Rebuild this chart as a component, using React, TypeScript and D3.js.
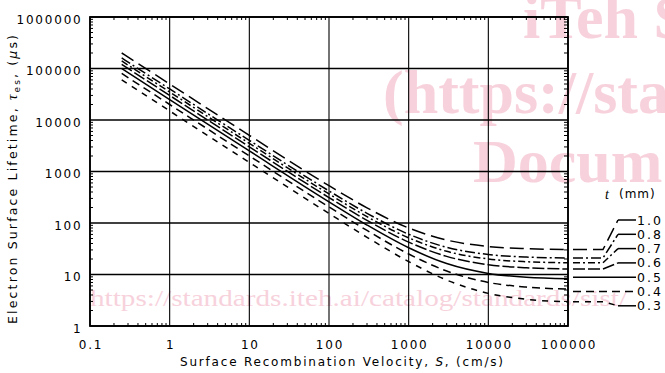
import React from "react";
import * as d3 from "d3";

// ── Data ──────────────────────────────────────────────────────
const VELOCITY = [0.25, 1, 10, 100, 300, 1000, 3000, 10000, 30000, 100000];

const T_10 = [200000, 50000, 5030, 530, 197, 80, 46.7, 35, 31.7, 30.5];
const T_08 = [160000, 40000, 4020, 420, 154, 60.5, 33.8, 24.5, 21.8, 20.9];
const T_07 = [140000, 35000, 3516, 366, 133, 51.5, 28.2, 20, 17.7, 16.9];
const T_06 = [120000, 30000, 3012, 312, 112.5, 42.5, 22.5, 15.5, 13.5, 12.8];
const T_05 = [100000, 25000, 2508, 258, 91.3, 33, 16.3, 10.5, 8.8, 8.25];
const T_04 = [80000, 20000, 2005, 205, 71.7, 25, 11.7, 7, 5.7, 5.2];
const T_03 = [60000, 15000, 1503, 153, 52.8, 17.8, 7.8, 4.3, 3.3, 2.95];

const THICKNESS = ["1.0", "0.8", "0.7", "0.6", "0.5", "0.4", "0.3"];
const SERIES = [T_10, T_08, T_07, T_06, T_05, T_04, T_03];

const X_TICKS = [0.1, 1, 10, 100, 1000, 10000, 100000];
const X_LABELS = ["0.1", "1", "10", "100", "1000", "10000", "100000"];
const Y_TICKS = [1, 10, 100, 1000, 10000, 100000, 1000000];
const Y_LABELS = ["1", "10", "100", "1000", "10000", "100000", "1000000"];

// ── Styles ────────────────────────────────────────────────────
const DASHES = ["14,6", "10,3,2,3", "7,3,2,3", "12,3", "none", "8,5", "6,6"];
const FONT = "DejaVu Sans, sans-serif";
const PINK = "#f7d2dc";

// ── Geometry ──────────────────────────────────────────────────
const W = 665;
const H = 373;
const PLOT = { left: 90, right: 568, top: 17, bottom: 326 };

const x = d3.scaleLog().domain([0.1, 100000]).range([PLOT.left, PLOT.right]);
const y = d3.scaleLog().domain([1, 1000000]).range([PLOT.bottom, PLOT.top]);

// minor ticks 2..9 in each decade
function minors(lo: number, hi: number) {
  const out: number[] = [];
  for (let d = lo; d < hi; d *= 10) {
    for (let k = 2; k <= 9; k++) out.push(d * k);
  }
  return out;
}

export default function App() {
  const line = d3
    .line<number>()
    .x((_d, i) => x(VELOCITY[i]))
    .y((d) => y(d))
    .curve(d3.curveMonotoneX);

  const stub = d3.line<[number, number]>();

  const xMinor = minors(0.1, 100000);
  const yMinor = minors(1, 1000000);

  return (
    <div style={{ position: "absolute", left: 0, top: 0 }}>
      <svg width={W} height={H} style={{ display: "block", background: "#fff" }}>
        {/* watermark */}
        <g fill={PINK} fontFamily="Liberation Serif, serif" fontWeight="bold" fontSize={62}>
          <text x={523} y={38}>iTeh S</text>
          <text x={383} y={113}>(https://sta</text>
          <text x={473} y={182}>Docum</text>
        </g>
        <text
          x={90}
          y={306}
          fill={PINK}
          fontFamily="Liberation Serif, serif"
          fontSize={24}
          textLength={537}
          lengthAdjust="spacingAndGlyphs"
        >
          https://standards.iteh.ai/catalog/standards/sist/
        </text>

        {/* grid */}
        {X_TICKS.map((t) => (
          <line key={"gx" + t} x1={x(t)} x2={x(t)} y1={PLOT.top} y2={PLOT.bottom} stroke="#000" strokeWidth={1.1} />
        ))}
        {Y_TICKS.map((t) => (
          <line key={"gy" + t} x1={PLOT.left} x2={PLOT.right} y1={y(t)} y2={y(t)} stroke="#000" strokeWidth={1.6} />
        ))}

        {/* minor ticks on all four sides */}
        {xMinor.map((t) => (
          <g key={"mx" + t} stroke="#000" strokeWidth={1}>
            <line x1={x(t)} x2={x(t)} y1={PLOT.bottom} y2={PLOT.bottom - 3} />
            <line x1={x(t)} x2={x(t)} y1={PLOT.top} y2={PLOT.top + 3} />
          </g>
        ))}
        {yMinor.map((t) => (
          <g key={"my" + t} stroke="#000" strokeWidth={1}>
            <line x1={PLOT.left} x2={PLOT.left + 3} y1={y(t)} y2={y(t)} />
            <line x1={PLOT.right} x2={PLOT.right - 4} y1={y(t)} y2={y(t)} />
          </g>
        ))}

        {/* frame */}
        <rect
          x={PLOT.left}
          y={PLOT.top}
          width={PLOT.right - PLOT.left}
          height={PLOT.bottom - PLOT.top}
          fill="none"
          stroke="#000"
          strokeWidth={1.8}
        />

        {/* curves */}
        {SERIES.map((s, i) => (
          <path
            key={"c" + i}
            d={line(s) ?? ""}
            fill="none"
            stroke="#000"
            strokeWidth={1.5}
            strokeDasharray={DASHES[i]}
          />
        ))}

        {/* legend title */}
        <text x={605} y={199} fontFamily="Liberation Serif, serif" fontStyle="italic" fontSize={14}>
          t
        </text>
        <text x={619} y={198} fontFamily={FONT} fontSize={12} letterSpacing={1}>
          (mm)
        </text>

        {/* legend stubs + labels */}
        {SERIES.map((s, i) => {
          const yEnd = y(s[s.length - 1]);
          const yLab = 220 + i * 14.3;
          const rises = Math.abs(yEnd - yLab) >= 3.5;
          const pts: [number, number][] = rises
            ? [[573, yEnd], [603, yEnd], [618, yLab]]
            : [[573, yLab], [636, yLab]];
          return (
            <g key={"l" + i}>
              <path
                d={stub(pts) ?? ""}
                fill="none"
                stroke="#000"
                strokeWidth={1.5}
                strokeDasharray={DASHES[i]}
              />
              {rises && (
                <line x1={618} x2={636} y1={yLab} y2={yLab} stroke="#000" strokeWidth={1.5} />
              )}
              <text x={637} y={yLab + 4.5} fontFamily={FONT} fontSize={12.5} letterSpacing={2}>
                {THICKNESS[i]}
              </text>
            </g>
          );
        })}

        {/* y tick labels */}
        {Y_TICKS.map((t, i) => (
          <text
            key={"yl" + t}
            x={82.5}
            y={y(t) + 6.7}
            textAnchor="end"
            fontFamily={FONT}
            fontSize={12}
            letterSpacing={1.8}
          >
            {Y_LABELS[i]}
          </text>
        ))}

        {/* x tick labels */}
        {X_TICKS.map((t, i) => (
          <text
            key={"xl" + t}
            x={x(t) + 1}
            y={349}
            textAnchor="middle"
            fontFamily={FONT}
            fontSize={12}
            letterSpacing={1.8}
          >
            {X_LABELS[i]}
          </text>
        ))}

        {/* axis titles */}
        <text x={180} y={366} fontFamily={FONT} fontSize={12} textLength={323} lengthAdjust="spacing">
          Surface Recombination Velocity, <tspan fontStyle="italic">S</tspan>, (cm/s)
        </text>
        <text
          transform="translate(17,324) rotate(-90)"
          x={0}
          y={0}
          fontFamily={FONT}
          fontSize={12.5}
          textLength={289}
          lengthAdjust="spacing"
        >
          Electron Surface Lifetime, <tspan fontStyle="italic" fontFamily="Liberation Serif, serif" fontSize={15}>τ</tspan>
          <tspan fontSize={9} dy={3}>es</tspan>
          <tspan dy={-3}>, (</tspan>
          <tspan fontStyle="italic">μ</tspan>
          <tspan>s)</tspan>
        </text>
      </svg>
    </div>
  );
}
